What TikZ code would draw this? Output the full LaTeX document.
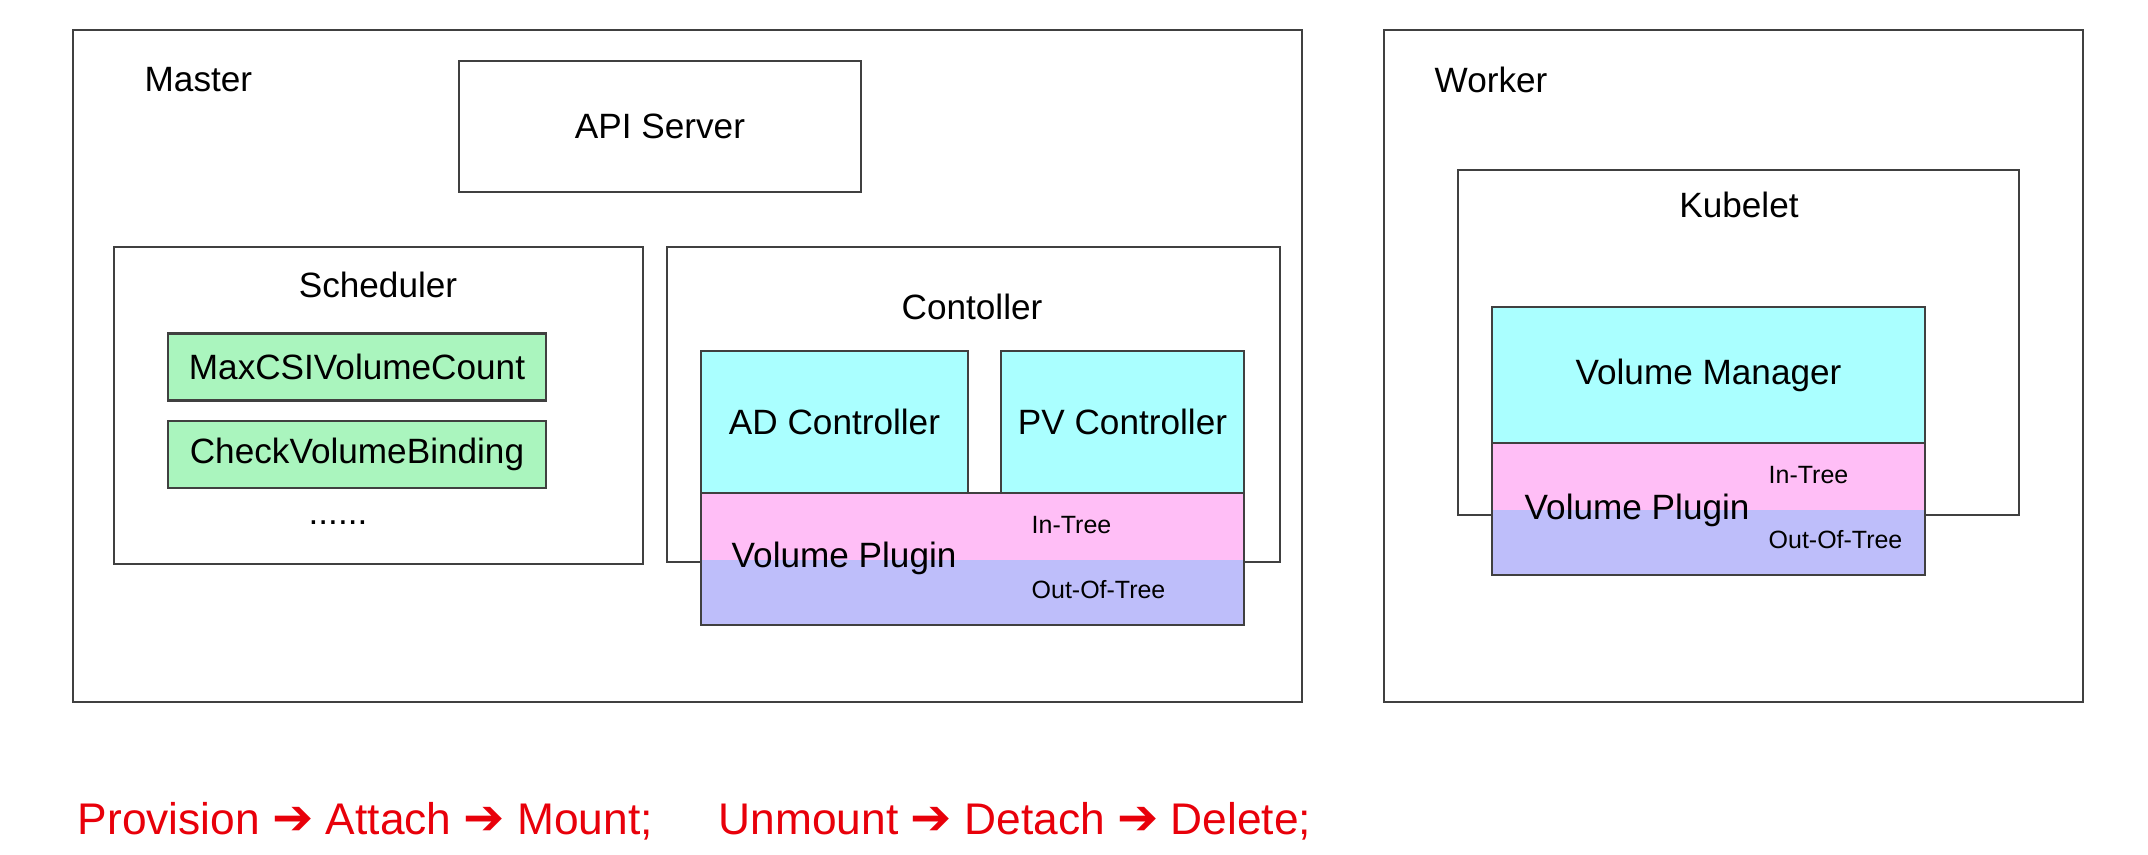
\documentclass[tikz,border=0pt]{standalone}
\usepackage{fontspec}
\setmainfont{Liberation Sans}
\newfontfamily\arrowfont{DejaVu Sans}
\usetikzlibrary{positioning}

\definecolor{ctrlcyan}{RGB}{170,255,255}
\definecolor{intreepink}{RGB}{255,190,246}
\definecolor{outtreeblue}{RGB}{190,190,250}
\definecolor{filtergreen}{RGB}{170,245,190}
\definecolor{stepred}{RGB}{232,0,10}

\newcommand{\steparrow}{{\arrowfont\fontsize{14}{14}\selectfont\char"2794}}

\begin{document}
\begin{tikzpicture}[x=0.01cm, y=-0.01cm,
frame/.style={draw=black!75, line width=.6pt},
boxtext/.style={inner sep=0pt, font=\fontsize{10}{12}\selectfont},
smalltext/.style={inner sep=0pt, anchor=west, font=\fontsize{7.1}{9}\selectfont},
textbox/.style={frame, inner sep=0pt, font=\fontsize{10}{12}\selectfont},
filter/.style={textbox, fill=filtergreen, minimum width=3.77cm, minimum height=.67cm},
ctrl/.style={textbox, fill=ctrlcyan, minimum height=1.42cm}]

%%%%%% SETTINGS %%%%%%%%%%

\useasboundingbox (0,0) rectangle (2148,854);

%%%%%% MASTER %%%%%%%%%%

\draw [frame] (73,30) rectangle (1302,702);
\node [boxtext, anchor=west] (master) at (144,80) {Master};

\node [textbox, minimum width=4.02cm, minimum height=1.31cm] (api) at (660,126.5) {API Server};

% scheduler
\draw [frame] (114,247) rectangle (643,564);
\node [boxtext] (sched) at (378,285) {Scheduler};
\node [filter] (maxcsi) at (357,367) {MaxCSIVolumeCount};
\node [filter, below=.18cm of maxcsi] (checkvb) {CheckVolumeBinding};
\node [boxtext] (more) at (338,523) {......};

% controller
\draw [frame] (667,247) rectangle (1280,562);
\node [boxtext] (ctrltitle) at (972,307) {Contoller};
\node [ctrl, minimum width=2.67cm] (adctrl) at (834.5,422) {AD Controller};
\node [ctrl, minimum width=2.43cm] (pvctrl) at (1122.5,422) {PV Controller};

\fill [intreepink] (701,493) rectangle (1244,560);
\fill [outtreeblue] (701,560) rectangle (1244,625);
\draw [frame] (701,493) rectangle (1244,625);
\node [boxtext, anchor=west] (mplugin) at (731,558) {Volume Plugin};
\node [smalltext] (mintree) at (1031,525) {In-Tree};
\node [smalltext] (mouttree) at (1031,590) {Out-Of-Tree};

%%%%%% WORKER %%%%%%%%%%

\draw [frame] (1384,30) rectangle (2083,702);
\node [boxtext, anchor=west] (worker) at (1434,80) {Worker};

\draw [frame] (1458,170) rectangle (2019,515);
\node [boxtext] (kubelet) at (1739,205) {Kubelet};

\node [ctrl, minimum width=4.33cm, minimum height=1.36cm] (volmgr) at (1708.5,375) {\raisebox{-.05cm}{Volume Manager}};

\fill [intreepink] (1492,443) rectangle (1925,510);
\fill [outtreeblue] (1492,510) rectangle (1925,575);
\draw [frame] (1492,443) rectangle (1925,575);
\node [boxtext, anchor=west] (wplugin) at (1524,510) {Volume Plugin};
\node [smalltext] (wintree) at (1768,475) {In-Tree};
\node [smalltext] (wouttree) at (1768,540) {Out-Of-Tree};

%%%%%% STEPS %%%%%%%%%%

\node [inner sep=0pt, anchor=base west, text=stepred, font=\fontsize{12.6}{14}\selectfont] (steps) at (77,834)
{Provision \steparrow{} Attach \steparrow{} Mount;\hspace{.66cm}Unmount \steparrow{} Detach \steparrow{} Delete;};

\end{tikzpicture}
\end{document}
